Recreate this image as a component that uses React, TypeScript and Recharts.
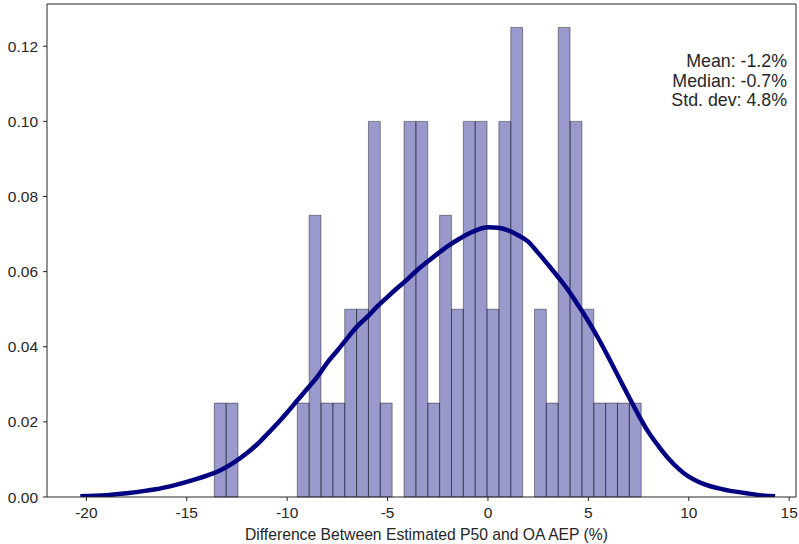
import React from 'react';
import { ComposedChart, Line, XAxis, YAxis, ReferenceArea, ReferenceLine } from 'recharts';

// histogram of the P50 vs OA AEP differences, 36 equal bins
const binStart = -13.63;
const binWidth = 0.5906;
const binDensity = [
  0.025, 0.025, 0, 0, 0, 0, 0, 0.025, 0.075, 0.025, 0.025, 0.05,
  0.05, 0.1, 0.025, 0, 0.1, 0.1, 0.025, 0.075, 0.05, 0.1, 0.1, 0.05,
  0.1, 0.125, 0, 0.05, 0.025, 0.125, 0.1, 0.05, 0.025, 0.025, 0.025, 0.025,
];

// kernel density estimate
const kdeX = [
  -20.3, -19, -18, -17, -16.3, -15.5, -14.7, -14, -13.3, -12.7, -12, -11.4,
  -11, -10.5, -10, -9.5, -9, -8.5, -8, -7.5, -7, -6.5, -6, -5.5,
  -5, -4.5, -4, -3.5, -3, -2.5, -2, -1.5, -1, -0.5, 0, 0.5,
  1, 1.5, 2, 2.5, 3, 3.5, 4, 4.5, 5, 5.5, 6, 6.5,
  7, 7.5, 8, 8.5, 9, 9.5, 10, 10.5, 11, 11.5, 12, 12.5,
  13, 13.5, 14.3,
];
const kdeY = [
  0.0002, 0.0005, 0.001, 0.0017, 0.0023, 0.0033, 0.0045, 0.0057, 0.0072, 0.009, 0.0117, 0.0145,
  0.0167, 0.0195, 0.0225, 0.0257, 0.0288, 0.032, 0.0358, 0.039, 0.0423, 0.0455, 0.048, 0.0508,
  0.0533, 0.0557, 0.058, 0.0605, 0.0627, 0.0648, 0.0668, 0.0685, 0.07, 0.0712, 0.0718, 0.0717,
  0.071, 0.0697, 0.068, 0.065, 0.0618, 0.0585, 0.055, 0.051, 0.0468, 0.0422, 0.0372, 0.032,
  0.0268, 0.0218, 0.0172, 0.0135, 0.0102, 0.0075, 0.0054, 0.004, 0.003, 0.0023, 0.0017, 0.0013,
  0.0009, 0.0005, 0.0002,
];

const xTicks = [-20, -15, -10, -5, 0, 5, 10, 15];
const yTicks = [0, 0.02, 0.04, 0.06, 0.08, 0.1, 0.12];
const statLines = ['Mean: -1.2%', 'Median: -0.7%', 'Std. dev: 4.8%'];

const xDomain: [number, number] = [-21.96, 15.34];
const yDomain: [number, number] = [0, 0.13125];

const font = '"Liberation Sans", Arial, sans-serif';
const ink = '#262626';

const kdeData = kdeX.map((x, i) => ({ x, y: kdeY[i] }));

export default function App() {
  return (
    <div style={{ position: 'absolute', left: 0, top: 0, width: 799, height: 544, background: '#fff', fontFamily: font }}>
      <ComposedChart width={799} height={544} margin={{ top: 4, right: 3, left: 0, bottom: 0 }}>
        <XAxis
          type="number"
          dataKey="x"
          domain={xDomain}
          allowDataOverflow
          ticks={xTicks}
          tick={{ fontSize: 15.5, fill: ink, fontFamily: font }}
          tickSize={4}
          tickMargin={6}
          height={47}
          stroke={ink}
          label={{
            value: 'Difference Between Estimated P50 and OA AEP (%)',
            position: 'insideBottom',
            offset: 4,
            dx: 5,
            style: { fontSize: 15.7, fill: ink, fontFamily: font },
          }}
        />
        <YAxis
          type="number"
          domain={yDomain}
          allowDataOverflow
          ticks={yTicks}
          tickFormatter={(v: number) => v.toFixed(2)}
          tick={{ fontSize: 15.5, fill: ink, fontFamily: font }}
          tickSize={4}
          tickMargin={5}
          width={47}
          stroke={ink}
        />
        {binDensity.map((d, i) =>
          d > 0 ? (
            <ReferenceArea
              key={i}
              x1={binStart + i * binWidth}
              x2={binStart + (i + 1) * binWidth}
              y1={0}
              y2={d}
              fill="#000080"
              fillOpacity={0.4}
              stroke="#000"
              strokeOpacity={0.4}
              strokeWidth={1}
              ifOverflow="visible"
            />
          ) : null
        )}
        <ReferenceLine y={yDomain[1]} stroke={ink} strokeWidth={1} />
        <ReferenceLine x={xDomain[1]} stroke={ink} strokeWidth={1} />
        <Line
          data={kdeData}
          dataKey="y"
          type="monotone"
          stroke="#000080"
          strokeWidth={4.5}
          dot={false}
          activeDot={false}
          isAnimationActive={false}
        />
      </ComposedChart>
      <div
        style={{
          position: 'absolute',
          right: 12,
          top: 52,
          textAlign: 'right',
          fontSize: 17.8,
          lineHeight: '19.5px',
          color: ink,
        }}
      >
        {statLines.map((s) => (
          <div key={s}>{s}</div>
        ))}
      </div>
    </div>
  );
}
